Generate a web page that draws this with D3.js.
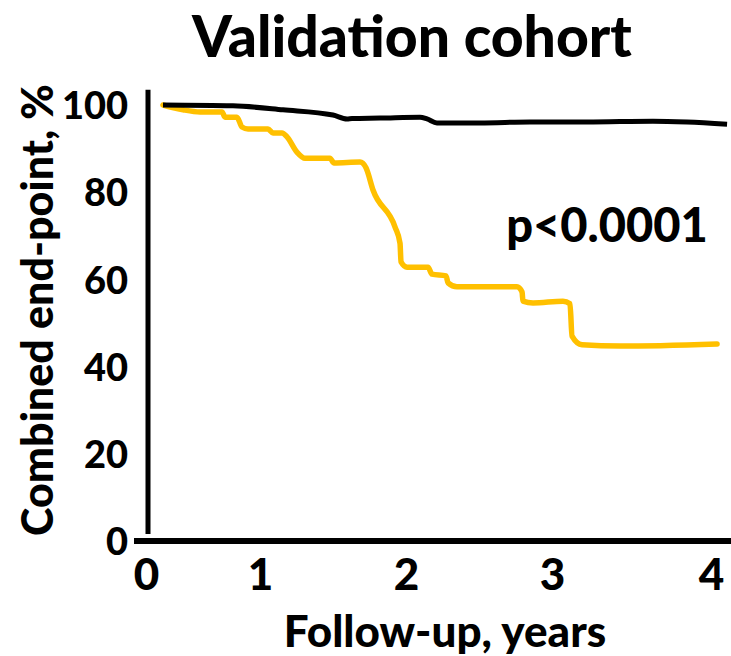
<!DOCTYPE html>
<html>
<head>
<meta charset="utf-8">
<script src="https://cdn.jsdelivr.net/npm/d3@7"></script>
<style>
  html, body { margin: 0; padding: 0; background: #fff; }
  svg { display: block; font-family: Lato, "Open Sans", sans-serif; font-weight: bold; }
</style>
</head>
<body>
<svg id="chart" width="731" height="656"></svg>
<script>
// Kaplan–Meier style curves: follow-up time (years) vs. combined end-point free (%)
const xTicks = [0, 1, 2, 3, 4];
const yTicks = [0, 20, 40, 60, 80, 100];

const lowRiskTime  = [0.149, 0.763, 1.158, 1.5, 1.596, 1.63, 1.822, 2.096, 2.144, 2.212, 2.507, 2.849, 3.22, 3.635, 3.849, 4.101];
const lowRiskValue = [100.0, 99.8, 98.9, 97.7, 96.8, 96.9, 97.0, 97.2, 96.8, 95.9, 95.9, 96.1, 96.1, 96.3, 96.1, 95.6];

const highRiskTime  = [0.149, 0.325, 0.474, 0.667, 0.693, 0.798, 0.842, 0.895, 1.055, 1.089, 1.151, 1.185, 1.253, 1.308, 1.479, 1.507, 1.685, 1.726, 1.774, 1.925, 1.959, 1.966, 2.007, 2.151, 2.178, 2.274, 2.288, 2.349, 2.760, 2.795, 2.801, 2.870, 3.069, 3.113, 3.126, 3.189, 3.428, 4.038];
const highRiskValue = [100.0, 98.9, 98.4, 98.4, 97.2, 97.2, 94.95, 94.5, 94.5, 93.6, 93.6, 92.7, 89.2, 87.8, 87.8, 86.7, 86.9, 85.6, 80.5, 72.0, 68.3, 64.0, 62.8, 62.8, 61.2, 60.8, 59.2, 58.3, 58.3, 57.1, 55.0, 54.6, 55.0, 54.4, 47.0, 45.0, 44.7, 45.2];

const titleText = "Validation cohort";
const xTitle = "Follow-up, years";
const yTitle = "Combined end-point, %";
const pText = "p<0.0001";

const svg = d3.select("#chart");

const x = d3.scaleLinear().domain(xTicks).range([146, 260, 406, 552, 711]);
const y = d3.scaleLinear().domain([0, 100]).range([541, 105]);

// axis lines
svg.append("line")
  .attr("x1", 148).attr("x2", 148)
  .attr("y1", y(103.5)).attr("y2", y(1.6))
  .attr("stroke", "#000").attr("stroke-width", 5);
svg.append("line")
  .attr("x1", x(0) - 12).attr("x2", 731)
  .attr("y1", y(0)).attr("y2", y(0))
  .attr("stroke", "#000").attr("stroke-width", 6);

// tick labels
const yAxis = svg.append("g")
  .attr("transform", "translate(128,0)")
  .call(d3.axisLeft(y).tickValues(yTicks).tickSize(0).tickPadding(0));
yAxis.select(".domain").remove();
yAxis.selectAll("text")
  .attr("font-size", 38).attr("font-family", "Lato, sans-serif").attr("font-weight", "900")
  .attr("fill", "#000").attr("dy", "0.36em");

const xAxis = svg.append("g")
  .attr("transform", "translate(0,558)")
  .call(d3.axisBottom(x).tickValues(xTicks).tickFormat(d3.format("d")).tickSize(0).tickPadding(0));
xAxis.select(".domain").remove();
xAxis.selectAll("text")
  .attr("font-size", 44).attr("font-family", "Lato, sans-serif").attr("font-weight", "900")
  .attr("fill", "#000").attr("dy", "0.72em");

// curves
const line = d3.line()
  .x(d => x(d[0]))
  .y(d => y(d[1]))
  .curve(d3.curveMonotoneX);

const highRisk = d3.zip(highRiskTime, highRiskValue);
const lowRisk = d3.zip(lowRiskTime, lowRiskValue);

svg.append("path")
  .datum(highRisk)
  .attr("d", line)
  .attr("fill", "none")
  .attr("stroke", "#FFC000")
  .attr("stroke-width", 5.5)
  .attr("stroke-linejoin", "round")
  .attr("stroke-linecap", "round");

svg.append("path")
  .datum(lowRisk)
  .attr("d", line)
  .attr("fill", "none")
  .attr("stroke", "#000")
  .attr("stroke-width", 5)
  .attr("stroke-linejoin", "round");

// texts
svg.append("text")
  .attr("x", 412).attr("y", 57)
  .attr("text-anchor", "middle")
  .attr("font-size", 57).attr("font-weight", "900")
  .text(titleText);

svg.append("text")
  .attr("x", 607).attr("y", 242)
  .attr("text-anchor", "middle")
  .attr("font-size", 47).attr("font-weight", "900")
  .text(pText);

svg.append("text")
  .attr("x", 445).attr("y", 647)
  .attr("text-anchor", "middle")
  .attr("font-size", 44).attr("font-weight", "900")
  .text(xTitle);

svg.append("text")
  .attr("transform", "translate(53,310) rotate(-90)")
  .attr("text-anchor", "middle")
  .attr("font-size", 43).attr("font-weight", "900")
  .text(yTitle);
</script>
</body>
</html>
